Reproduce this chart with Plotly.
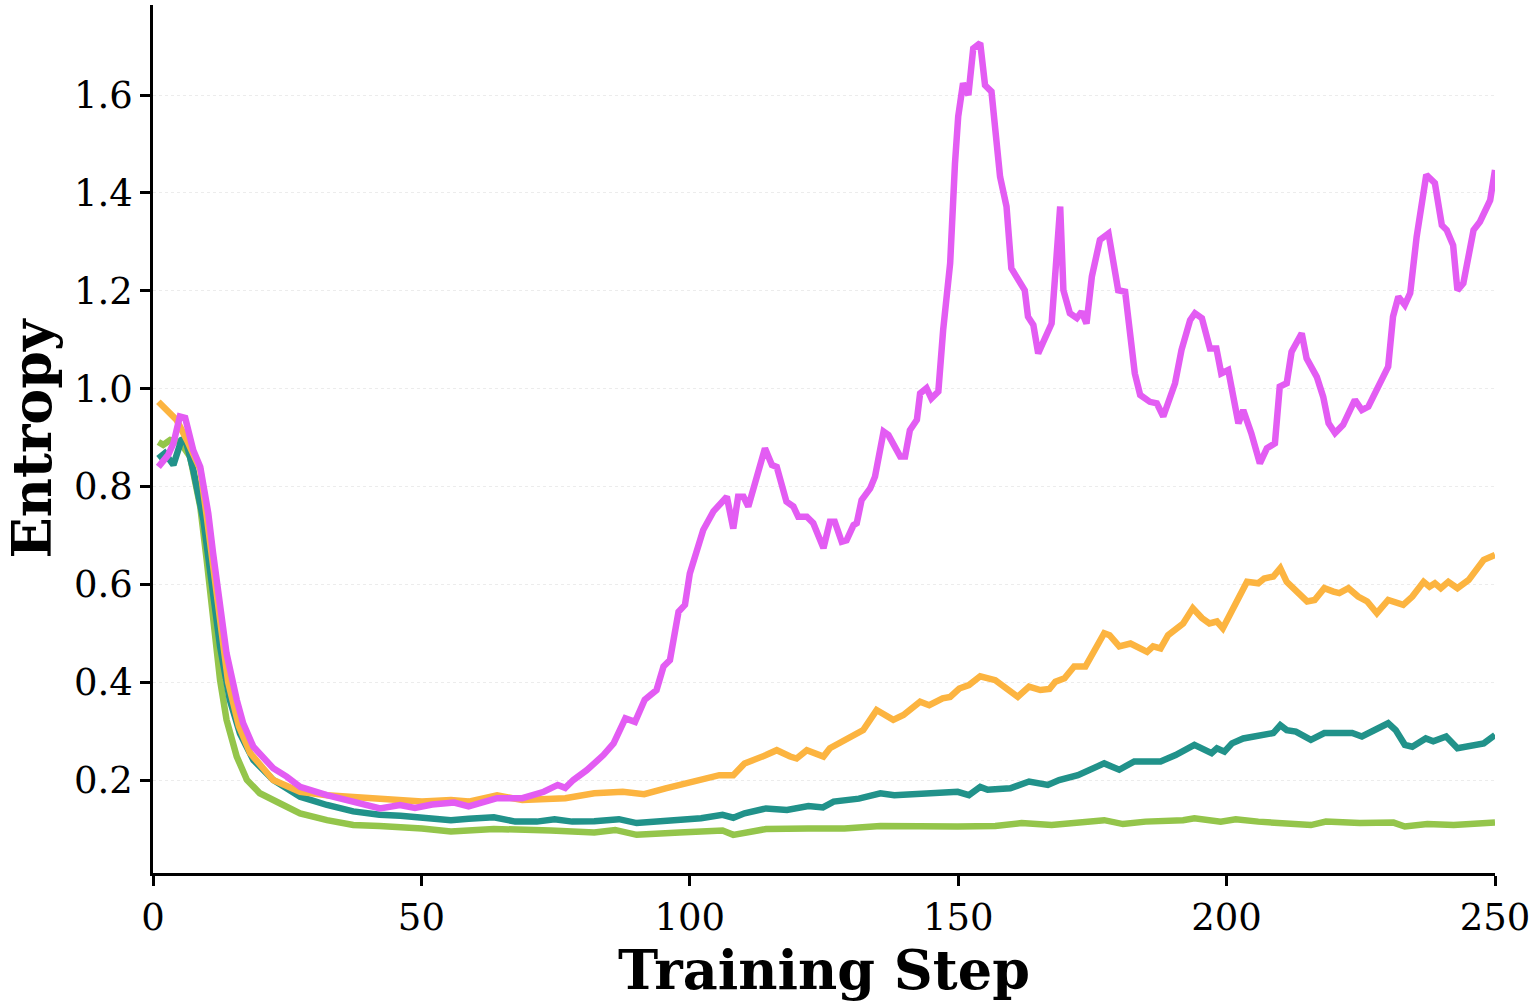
import plotly.graph_objects as go

# entropy curves (step, entropy)
magenta_x = [1, 2.8, 3.8, 5, 6, 7.5, 8.8, 10.3, 11.2, 12.5, 13.7, 15.6, 16.8, 18.7, 22.4, 24.9, 27.4, 32.4,
             37.3, 42.3, 46, 48.8, 52, 56.1, 58.8, 64.1, 68.8, 72.8, 75.4, 76.8, 78.3, 80.8, 83.9, 85.8, 88,
             89.8, 91.6, 93.8, 95.1, 96.3, 97.9, 99.1, 100, 102.5, 104.4, 106.9, 108.1, 109, 110, 110.9, 114,
             115.3, 116.2, 118, 119.3, 120.2, 121.8, 123, 124.9, 126.1, 127, 128.3, 129.2, 130.5, 131.1, 132,
             133.6, 134.5, 136.1, 137, 139.2, 140.1, 141, 142.3, 142.9, 144.1, 145, 146.3, 147.2, 148.5, 149.4,
             150, 150.9, 151.9, 152.8, 154.1, 155, 156.2, 157.8, 159, 159.9, 161.5, 162.4, 163, 164, 164.9,
             166.2, 167.4, 168, 169, 169.6, 170.8, 172.1, 173, 173.9, 174.9, 176.4, 178, 179.8, 181.1, 182.9,
             183.9, 185.7, 187, 188.2, 190.4, 191.6, 193.2, 194.1, 195.4, 196.9, 198.1, 199, 200.3, 202.2,
             203.1, 204.6, 206.2, 207.5, 209, 209.9, 211.2, 212.1, 214, 214.9, 216.8, 218, 219, 220.2, 221.7,
             223.9, 225.2, 226.4, 228.6, 230.1, 231, 232, 233.2, 234.2, 235.4, 237.2, 238.8, 240.1, 241, 242.2,
             243, 244.1, 246, 247.2, 249.1, 250]
magenta_y = [0.840, 0.864, 0.888, 0.943, 0.940, 0.874, 0.840, 0.745, 0.663, 0.568, 0.459, 0.364, 0.316, 0.268,
             0.224, 0.207, 0.186, 0.169, 0.156, 0.142, 0.149, 0.143, 0.150, 0.154, 0.146, 0.163, 0.163, 0.176,
             0.190, 0.184, 0.200, 0.220, 0.251, 0.275, 0.326, 0.319, 0.364, 0.384, 0.432, 0.445, 0.544, 0.558,
             0.622, 0.711, 0.749, 0.779, 0.714, 0.779, 0.779, 0.759, 0.878, 0.844, 0.840, 0.769, 0.759, 0.738,
             0.738, 0.725, 0.674, 0.728, 0.728, 0.687, 0.690, 0.721, 0.725, 0.772, 0.796, 0.820, 0.912, 0.905,
             0.861, 0.861, 0.915, 0.936, 0.990, 1.001, 0.980, 0.994, 1.120, 1.256, 1.460, 1.556, 1.624, 1.600,
             1.695, 1.706, 1.620, 1.607, 1.433, 1.372, 1.246, 1.215, 1.201, 1.147, 1.130, 1.072, 1.103, 1.133,
             1.222, 1.372, 1.201, 1.154, 1.144, 1.157, 1.133, 1.229, 1.304, 1.317, 1.201, 1.198, 1.031, 0.987,
             0.973, 0.970, 0.943, 1.011, 1.079, 1.140, 1.154, 1.144, 1.082, 1.082, 1.031, 1.038, 0.929, 0.956,
             0.909, 0.847, 0.878, 0.888, 1.004, 1.011, 1.075, 1.113, 1.062, 1.024, 0.983, 0.929, 0.909, 0.926,
             0.977, 0.956, 0.963, 1.011, 1.045, 1.147, 1.188, 1.171, 1.195, 1.310, 1.437, 1.420, 1.334, 1.324,
             1.293, 1.201, 1.215, 1.324, 1.341, 1.385, 1.447]

orange_x = [1, 2.5, 4.4, 6.3, 8.8, 10, 12, 14, 16, 18.1, 22.4, 27.4, 32.4, 37.3, 42.2, 50.1, 55.5, 58.8, 64.1,
            68.8, 76.8, 82.2, 87.5, 91.5, 95.5, 100.8, 105.5, 108.1, 110.2, 114.2, 116.2, 118.7, 119.9, 121.8,
            124.9, 126.1, 129.2, 132.3, 134.8, 137, 137.9, 139.8, 142.9, 144.6, 147.1, 148.5, 150.2, 152, 154.1,
            156.9, 159, 161.1, 163.2, 165.3, 167, 168.1, 169.8, 171.6, 173.7, 175.8, 177.2, 178.2, 180, 182.1,
            184.2, 185.2, 186.3, 187.7, 189.1, 190.5, 191.9, 193.7, 195.4, 196.8, 198.2, 199.3, 201, 202.4,
            203.8, 205.9, 207, 208.7, 210, 211.2, 212.9, 215, 216.4, 218.2, 219.9, 221, 222.7, 224.5, 226.2,
            228, 230.1, 232.9, 234.6, 236.7, 237.8, 238.8, 239.9, 241.3, 243, 245.1, 247.9, 250]
orange_y = [0.973, 0.956, 0.936, 0.895, 0.835, 0.740, 0.560, 0.400, 0.310, 0.255, 0.200, 0.176, 0.169, 0.166,
            0.163, 0.156, 0.159, 0.156, 0.169, 0.159, 0.163, 0.173, 0.176, 0.171, 0.183, 0.197, 0.210, 0.210,
            0.234, 0.251, 0.261, 0.248, 0.244, 0.261, 0.248, 0.265, 0.282, 0.302, 0.343, 0.330, 0.323, 0.333,
            0.360, 0.353, 0.367, 0.370, 0.387, 0.394, 0.412, 0.404, 0.387, 0.370, 0.391, 0.384, 0.386, 0.401,
            0.408, 0.432, 0.432, 0.473, 0.500, 0.496, 0.473, 0.479, 0.469, 0.462, 0.473, 0.469, 0.496, 0.510,
            0.520, 0.551, 0.531, 0.520, 0.524, 0.510, 0.547, 0.575, 0.605, 0.602, 0.612, 0.616, 0.633, 0.605,
            0.588, 0.565, 0.568, 0.592, 0.585, 0.582, 0.592, 0.575, 0.565, 0.541, 0.568, 0.558, 0.575, 0.605,
            0.595, 0.602, 0.592, 0.605, 0.592, 0.609, 0.650, 0.660]

teal_x = [1, 2.2, 3.8, 5.3, 6, 7.5, 9.4, 10.9, 12.5, 14.3, 16.2, 18.7, 22.4, 27.4, 32.4, 37.3, 42.2, 46.1, 52.1,
          55.5, 58.8, 63.5, 67.5, 71.5, 74.8, 78.1, 82.2, 86.8, 90.1, 94.1, 98.1, 102.1, 106.1, 108.1, 110.2,
          114.2, 118.1, 122.1, 124.8, 126.8, 131.5, 135.5, 138.1, 142.9, 146.4, 149.9, 152, 154.1, 155.5, 159.7,
          163.2, 166.7, 168.8, 172.3, 177.2, 180, 182.8, 187.7, 190.5, 194, 197.2, 198.2, 199.6, 201, 203.1,
          205.9, 208.7, 210, 211.2, 212.9, 215.7, 218.2, 219.9, 223.4, 225.2, 226.9, 230.1, 231.5, 233.2, 234.6,
          237.1, 238.5, 240.9, 243, 245.1, 247.9, 250]
teal_y = [0.857, 0.868, 0.844, 0.895, 0.898, 0.834, 0.731, 0.609, 0.473, 0.364, 0.295, 0.241, 0.200, 0.166,
          0.149, 0.136, 0.129, 0.127, 0.123, 0.118, 0.121, 0.124, 0.115, 0.115, 0.120, 0.115, 0.116, 0.120,
          0.112, 0.115, 0.120, 0.122, 0.129, 0.123, 0.132, 0.142, 0.139, 0.147, 0.144, 0.156, 0.162, 0.173,
          0.169, 0.173, 0.173, 0.176, 0.169, 0.186, 0.180, 0.183, 0.197, 0.190, 0.200, 0.210, 0.234, 0.221,
          0.238, 0.238, 0.251, 0.272, 0.255, 0.265, 0.258, 0.275, 0.285, 0.289, 0.296, 0.312, 0.302, 0.299,
          0.282, 0.296, 0.297, 0.296, 0.289, 0.299, 0.316, 0.302, 0.272, 0.268, 0.285, 0.279, 0.289, 0.265,
          0.268, 0.275, 0.292]

green_x = [1, 1.9, 3.2, 5, 6.9, 8.8, 10, 11.2, 12.5, 13.7, 15.6, 17.5, 19.9, 23.7, 27.4, 32.4, 37.3, 42.2, 46,
           50.1, 55.5, 63.5, 74.1, 82.2, 86.1, 90.1, 98.1, 106.1, 108.1, 114.2, 122.1, 128.8, 135.5, 142.9,
           149.9, 156.9, 161.8, 167.4, 172.3, 177.2, 180.7, 184.9, 191.9, 194, 198.9, 201.7, 205.9, 215.7, 218.5,
           224.8, 231.1, 233.2, 237.4, 242.3, 250]
green_y = [0.891, 0.885, 0.895, 0.891, 0.861, 0.759, 0.650, 0.541, 0.404, 0.323, 0.248, 0.200, 0.173, 0.152,
           0.132, 0.118, 0.108, 0.106, 0.105, 0.101, 0.095, 0.100, 0.097, 0.093, 0.098, 0.088, 0.093, 0.097,
           0.088, 0.100, 0.101, 0.101, 0.106, 0.104, 0.105, 0.106, 0.112, 0.108, 0.112, 0.118, 0.110, 0.115,
           0.118, 0.122, 0.115, 0.120, 0.115, 0.108, 0.115, 0.112, 0.113, 0.105, 0.110, 0.108, 0.113]

x_ticks = [0, 50, 100, 150, 200, 250]
y_ticks = [0.2, 0.4, 0.6, 0.8, 1.0, 1.2, 1.4, 1.6]

series = [
    (green_x, green_y, "#94c54b"),
    (teal_x, teal_y, "#21928a"),
    (orange_x, orange_y, "#fcb440"),
    (magenta_x, magenta_y, "#e35cf3"),
]

fig = go.Figure()
for xs, ys, col in series:
    fig.add_trace(go.Scatter(x=xs, y=ys, mode="lines",
                             line=dict(color=col, width=6.5),
                             showlegend=False))

font = "DejaVu Serif, Liberation Serif, serif"
fig.update_layout(
    width=1535, height=1002,
    margin=dict(l=153, r=40, t=5, b=129),
    paper_bgcolor="white", plot_bgcolor="white",
    font=dict(family=font, color="black"),
)
fig.update_xaxes(
    range=[0, 250], tickvals=x_ticks,
    showline=True, linecolor="black", linewidth=2.5,
    ticks="outside", ticklen=10, tickwidth=2.5, tickcolor="black",
    tickfont=dict(size=37, family=font),
    showgrid=False, zeroline=False,
    title=dict(text="<b>Training Step</b>", font=dict(size=54, family=font), standoff=4),
)
fig.update_yaxes(
    range=[0.01, 1.784], tickvals=y_ticks, ticktext=[f"{v:.1f}" for v in y_ticks],
    showline=True, linecolor="black", linewidth=2.5,
    ticks="outside", ticklen=10, tickwidth=2.5, tickcolor="black",
    tickfont=dict(size=37, family=font),
    showgrid=True, gridcolor="#ececec", griddash="dot", gridwidth=1,
    zeroline=False,
    title=dict(text="<b>Entropy</b>", font=dict(size=54, family=font), standoff=15),
)

# drop the browser's default 8px body margin so the figure sits at the page corner
fig.write_html("out.html", config={"displayModeBar": False},
               post_script="document.body.style.margin='0';")
